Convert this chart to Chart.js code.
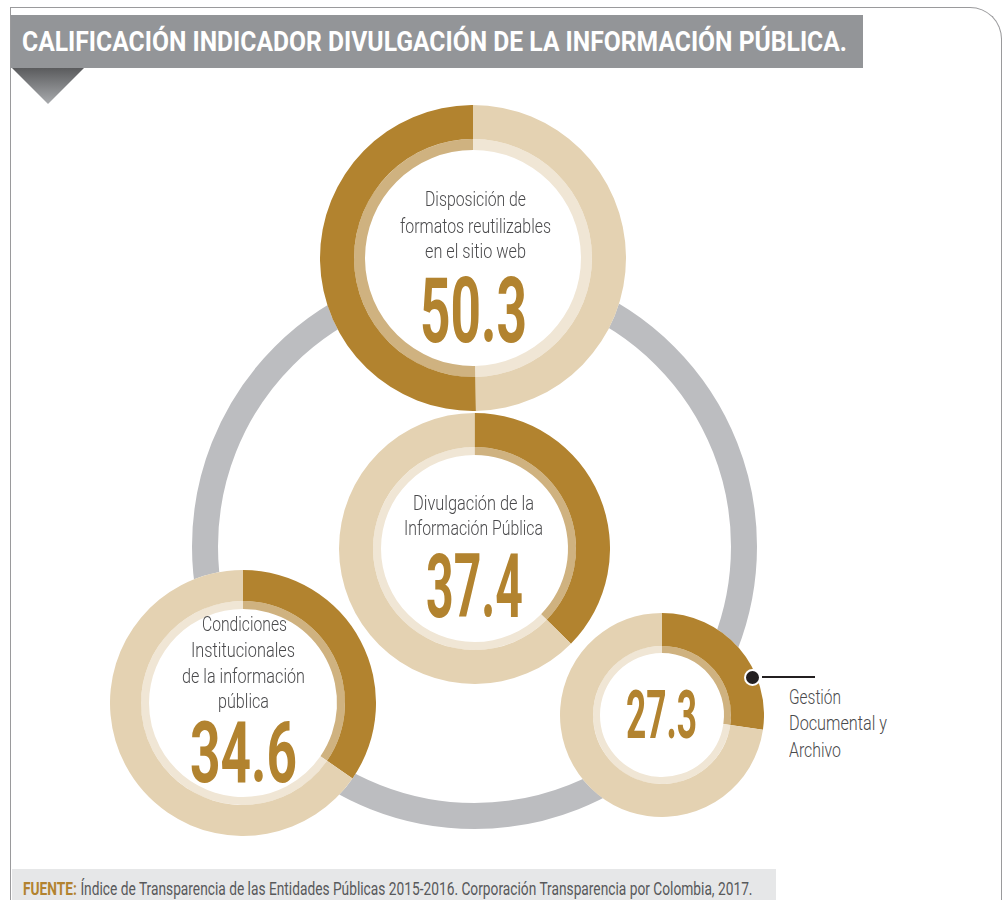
<!DOCTYPE html>
<html>
<head>
<meta charset="utf-8">
<script src="https://cdn.jsdelivr.net/npm/chart.js@4/dist/chart.umd.min.js"></script>
<style>
  html,body{margin:0;padding:0;background:#fff;}
  body{width:1004px;height:900px;position:relative;overflow:hidden;font-family:Roboto,"Noto Sans",sans-serif;}
  .frame{position:absolute;left:10px;top:7px;width:992px;height:1000px;box-sizing:border-box;border:1.5px solid #9a9a9c;border-bottom:none;border-top-right-radius:32px;}
  .titlebar{position:absolute;left:11px;top:15px;width:852px;height:53px;background:#939598;}
  .tri{position:absolute;left:12px;top:68px;width:72px;height:36px;clip-path:polygon(0 0,100% 0,50% 100%);background:linear-gradient(#5a5b5d,#a9abae);}
  .ring{position:absolute;box-sizing:border-box;border-radius:50%;border:26px solid #bcbdc0;}
  .donut{position:absolute;border-radius:50%;background:#fff;}
  .donut canvas{display:block;}
  .footer{position:absolute;left:12px;top:869px;width:764px;height:40px;background:#e6e7e8;}
  .t{position:absolute;left:0;top:0;white-space:nowrap;line-height:1;transform-origin:0 0;}
  .m{display:inline-block;width:0;height:0;vertical-align:baseline;}
  .dot{position:absolute;left:744px;top:669px;width:13px;height:13px;border-radius:50%;background:#231f20;border:2px solid #fff;}
  .lead{position:absolute;left:762px;top:676px;width:53px;height:1.5px;background:#231f20;}
</style>
</head>
<body>
<div class="frame"></div>
<div class="titlebar"></div>
<div class="tri"></div>
<div class="footer"></div>
<div class="ring" id="ring"></div>
<div id="stage"></div>
<div class="dot"></div>
<div class="lead"></div>
<script>
// ---- data ----
const title = 'CALIFICACIÓN INDICADOR DIVULGACIÓN DE LA INFORMACIÓN PÚBLICA.';
const categories = [
  'Disposición de formatos reutilizables en el sitio web',
  'Divulgación de la Información Pública',
  'Condiciones Institucionales de la información pública',
  'Gestión Documental y Archivo'
];
const values = [50.3, 37.4, 34.6, 27.3];
const maxValue = 100;
const labelLines = [
  ['Disposición de', 'formatos reutilizables', 'en el sitio web'],
  ['Divulgación de la', 'Información Pública'],
  ['Condiciones', 'Institucionales', 'de la información', 'pública'],
  ['Gestión', 'Documental y', 'Archivo']
];
const sourceLabel = 'FUENTE:';
const sourceText = 'Índice de Transparencia de las Entidades Públicas 2015-2016. Corporación Transparencia por Colombia, 2017.';

// ---- styles / layout ----
const DARK = '#b2832f', LIGHT = '#e4d2b2', DARK_IN = '#cfb280', LIGHT_IN = '#f0e6d5';
const TEXT = '#4a4a4c';
const FAM = 'Roboto, "Noto Sans", sans-serif';
const CAPR = 0.711;
const layout = [
  {cx:473, cy:257.5, r:153, thick:34, thin:11, ccw:true,
   lines:[{x:425,w:101,b:206},{x:400,w:151,b:232.5},{x:425,w:101,b:258}],
   num:{x:420,w:107,b:342,cap:64}},
  {cx:474, cy:548.5, r:135.5, thick:34, thin:8, ccw:false,
   lines:[{x:413,w:121,b:510},{x:404,w:139,b:535}],
   num:{x:426,w:97,b:617,cap:63}},
  {cx:243, cy:703, r:133, thick:31, thin:8, ccw:false,
   lines:[{x:202,w:85,b:631},{x:191,w:104,b:657},{x:182,w:123,b:683},{x:218,w:51,b:708}],
   num:{x:190,w:107,b:782,cap:60}},
  {cx:662, cy:715, r:102, thick:33, thin:7, ccw:false,
   lines:[{x:789,w:52,b:704},{x:789,w:98,b:730},{x:789,w:52,b:756.5}],
   num:{x:626,w:71,b:738,cap:47}}
];

const stage = document.getElementById('stage');

// grey connecting ring
const ring = document.getElementById('ring');
const RC = {cx:474, cy:546, r:282.5};
ring.style.left = (RC.cx - RC.r) + 'px';
ring.style.top = (RC.cy - RC.r) + 'px';
ring.style.width = ring.style.height = (2*RC.r) + 'px';

function put(html, o) {
  const d = document.createElement('div');
  d.className = 't';
  d.style.font = `${o.weight||400} ${o.cap/CAPR}px ${FAM}`;
  d.style.color = o.color || TEXT;
  d.innerHTML = `<span>${html}</span><span class="m"></span>`;
  stage.appendChild(d);
  const nat = d.firstChild.getBoundingClientRect().width;
  const bo = d.lastChild.offsetTop;
  d.style.left = o.x + 'px';
  d.style.top = (o.b - bo) + 'px';
  d.style.transform = `scaleX(${o.w / nat})`;
}

values.forEach((v, i) => {
  const L = layout[i];
  const wrap = document.createElement('div');
  wrap.className = 'donut';
  wrap.style.left = (L.cx - L.r) + 'px';
  wrap.style.top = (L.cy - L.r) + 'px';
  wrap.style.width = wrap.style.height = (2*L.r) + 'px';
  const cv = document.createElement('canvas');
  cv.width = cv.height = 2*L.r;
  wrap.appendChild(cv);
  stage.appendChild(wrap);
  const rest = maxValue - v;
  const d = L.ccw ? [rest, v] : [v, rest];
  const cOut = L.ccw ? [LIGHT, DARK] : [DARK, LIGHT];
  const cIn = L.ccw ? [LIGHT_IN, DARK_IN] : [DARK_IN, LIGHT_IN];
  const lbls = L.ccw ? ['Resto', categories[i]] : [categories[i], 'Resto'];
  new Chart(cv, {
    type: 'doughnut',
    data: {
      labels: lbls,
      datasets: [
        {data: d, backgroundColor: cOut, borderWidth: 0, weight: L.thick},
        {data: d, backgroundColor: cIn, borderWidth: 0, weight: L.thin}
      ]
    },
    options: {
      responsive: false, animation: false, events: [],
      cutout: ((L.r - L.thick - L.thin) / L.r * 100) + '%',
      layout: {padding: 0},
      plugins: {legend: {display: false}, tooltip: {enabled: false}}
    }
  });
  labelLines[i].forEach((txt, j) => {
    const p = L.lines[j];
    put(txt, {x: p.x, w: p.w, b: p.b, cap: 15, weight: 300});
  });
  put(v.toFixed(1), {x: L.num.x, w: L.num.w, b: L.num.b, cap: L.num.cap, weight: 700, color: DARK});
});

// title & footer
put(title, {x: 22, w: 825, b: 51, cap: 19, weight: 700, color: '#ffffff'});
put(`<span style="font-weight:700;color:${DARK}">${sourceLabel}</span> ${sourceText}`,
    {x: 22.5, w: 729.5, b: 895, cap: 13.3, weight: 400, color: '#58595b'});
</script>
</body>
</html>
